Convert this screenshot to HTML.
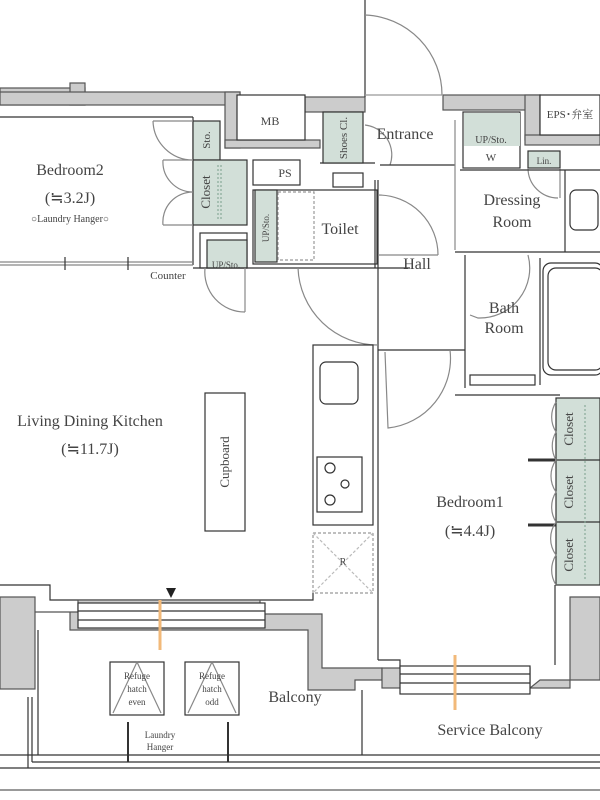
<!DOCTYPE html>
<html><head><meta charset="utf-8"><style>
html,body{margin:0;padding:0;background:#fff;}
svg{display:block;}
text{font-family:"Liberation Serif","Noto Serif CJK SC",serif;fill:#444;}
</style></head><body>
<svg width="600" height="800" viewBox="0 0 600 800" xmlns="http://www.w3.org/2000/svg">
<g stroke="#333" stroke-width="1.2" fill="none">
<!-- top gray walls -->
<rect x="0" y="88" width="85" height="17" fill="#ccc" stroke="#555"/>
<rect x="70" y="83" width="15" height="22" fill="#ccc" stroke="#555"/>
<rect x="0" y="92" width="240" height="13" fill="#ccc" stroke="#555"/>
<rect x="225" y="92" width="15" height="56" fill="#ccc" stroke="#555"/>
<rect x="225" y="140" width="95" height="8" fill="#ccc" stroke="#555"/>
<rect x="305" y="97" width="60" height="15" fill="#ccc" stroke="#555"/>
<rect x="443" y="95" width="97" height="15" fill="#ccc" stroke="#555"/>
<rect x="525" y="95" width="15" height="45" fill="#ccc" stroke="#555"/>
<rect x="525" y="135" width="75" height="10" fill="#ccc" stroke="#555"/>
<rect x="237" y="95" width="68" height="45" fill="#fff"/>
<rect x="540" y="95" width="60" height="40" fill="#fff"/>
<!-- entrance door arc -->
<line x1="365" y1="0" x2="365" y2="97"/>
<path d="M365 15 A80 80 0 0 1 442 95" stroke="#888"/>
<line x1="365" y1="95" x2="443" y2="95" stroke="#999"/>
<!-- bedroom2 -->
<line x1="0" y1="117" x2="193" y2="117"/>
<line x1="193" y1="117" x2="193" y2="265"/>
<rect x="193" y="121" width="27" height="39" fill="#d2dfd8"/>
<rect x="193" y="160" width="54" height="65" fill="#d2dfd8"/>
<line x1="218" y1="165" x2="218" y2="220" stroke="#8a9" stroke-dasharray="2,2"/>
<line x1="221" y1="165" x2="221" y2="220" stroke="#8a9" stroke-dasharray="2,2"/>
<path d="M153 121 H193 M153 121 A40 40 0 0 0 193 160 M163 160 H193 M163 160 A30 30 0 0 0 193 192 M163 225 H193 M163 225 A30 30 0 0 1 193 192" stroke="#888"/>
<rect x="200" y="233" width="47" height="35" fill="#fff"/>
<rect x="207" y="240" width="40" height="28" fill="#d2dfd8"/>
<line x1="0" y1="262" x2="193" y2="262" stroke="#888"/>
<line x1="0" y1="265" x2="193" y2="265" stroke="#888"/>
<line x1="65" y1="257" x2="65" y2="270"/><line x1="128" y1="257" x2="128" y2="270"/>
<line x1="193" y1="268" x2="410" y2="268"/>
<path d="M205 268 A40 40 0 0 0 245 312 M245 268 V312" stroke="#888"/>
<!-- PS / toilet -->
<rect x="253" y="160" width="47" height="25"/>
<rect x="253" y="190" width="124" height="74"/>
<rect x="255" y="190" width="22" height="72" fill="#d2dfd8"/>
<rect x="278" y="192" width="36" height="68" stroke="#999" stroke-dasharray="3,2"/>
<rect x="333" y="173" width="30" height="14"/>
<line x1="320" y1="163" x2="375" y2="163"/>
<!-- shoes closet -->
<rect x="323" y="112" width="40" height="51" fill="#d2dfd8"/>
<path d="M365 125 A30 30 0 0 1 390 165" stroke="#888"/>
<line x1="380" y1="165" x2="455" y2="165"/>
<line x1="378" y1="180" x2="378" y2="660"/>
<line x1="375" y1="180" x2="375" y2="268"/>
<path d="M378 195 A60 60 0 0 1 438 255 M378 255 H438" stroke="#888"/>
<path d="M298 268 A80 80 0 0 0 378 345" stroke="#888"/>
<line x1="455" y1="120" x2="455" y2="250" stroke="#888"/>
<!-- UP/Sto W -->
<rect x="463" y="112" width="57" height="56"/>
<polygon points="464,113 520,113 520,146 464,146" fill="#d2dfd8" stroke="none"/>
<rect x="528" y="151" width="32" height="17" fill="#d2dfd8"/>
<path d="M528 168 A30 30 0 0 0 558 198 M560 168 V198" stroke="#888"/>
<line x1="460" y1="170" x2="600" y2="170"/>
<line x1="565" y1="170" x2="565" y2="252"/>
<rect x="570" y="190" width="28" height="40" rx="6"/>
<line x1="455" y1="252" x2="600" y2="252"/>
<line x1="465" y1="255" x2="465" y2="388"/>
<line x1="540" y1="258" x2="540" y2="385"/>
<rect x="543" y="263" width="60" height="112" rx="8"/>
<rect x="548" y="268" width="55" height="102" rx="8"/>
<rect x="470" y="375" width="65" height="10"/>
<path d="M470 315 L478 318 A50 50 0 0 0 528 255" stroke="#888"/>
<line x1="378" y1="350" x2="465" y2="350"/>
<path d="M385 352 L388 428 A70 70 0 0 0 450 350" stroke="#888"/>
<line x1="455" y1="395" x2="560" y2="395"/>
<!-- kitchen -->
<rect x="313" y="345" width="60" height="180"/>
<rect x="320" y="362" width="38" height="42" rx="6"/>
<rect x="317" y="457" width="45" height="55"/>
<circle cx="330" cy="468" r="5"/><circle cx="345" cy="484" r="4"/><circle cx="330" cy="500" r="5"/>
<rect x="313" y="533" width="60" height="60" stroke="#999" stroke-dasharray="3,2"/>
<path d="M313 533 L373 593 M373 533 L313 593" stroke="#bbb" stroke-dasharray="3,2"/>
<rect x="205" y="393" width="40" height="138"/>
<!-- bedroom1 closets -->
<rect x="556" y="398" width="44" height="187" fill="#d2dfd8"/>
<line x1="556" y1="460" x2="600" y2="460"/><line x1="556" y1="522" x2="600" y2="522"/>
<line x1="528" y1="460" x2="556" y2="460" stroke-width="3"/><line x1="528" y1="525" x2="556" y2="525" stroke-width="3"/>
<path d="M556 402 A28 28 0 0 0 556 432 A28 28 0 0 0 556 460 A28 28 0 0 0 556 492 A28 28 0 0 0 556 522 A28 28 0 0 0 556 555 A28 28 0 0 0 556 585" stroke="#888"/>
<line x1="585" y1="405" x2="585" y2="580" stroke="#8a9" stroke-dasharray="2,2"/>
<!-- bottom walls -->
<path d="M0 585 H50 V600 H313 V593" />
<rect x="0" y="597" width="35" height="92" fill="#ccc" stroke="#555"/>
<polygon points="35,612 70,612 70,630 308,630 308,690 355,690 355,680 382,680 382,668 322,668 322,614 260,614 260,600 78,600 78,612" fill="#ccc" stroke="#555"/>
<rect x="78" y="603" width="187" height="25" fill="#fff"/>
<line x1="78" y1="611" x2="265" y2="611"/><line x1="78" y1="620" x2="265" y2="620"/>
<path d="M378 660 H400 V680"/>
<polygon points="530,688 570,688 570,597 600,597 600,680 540,680" fill="#ccc" stroke="#555"/>
<rect x="382" y="668" width="148" height="20" fill="#ccc" stroke="#555"/>
<rect x="400" y="666" width="130" height="28" fill="#fff"/>
<line x1="400" y1="674" x2="530" y2="674"/><line x1="400" y1="683" x2="530" y2="683"/>
<line x1="555" y1="585" x2="555" y2="665"/>
<line x1="38" y1="630" x2="38" y2="755"/>
<line x1="362" y1="690" x2="362" y2="755"/>
<line x1="0" y1="755" x2="600" y2="755"/>
<line x1="28" y1="697" x2="28" y2="768"/>
<line x1="32" y1="697" x2="32" y2="762"/>
<line x1="32" y1="762" x2="600" y2="762"/>
<line x1="0" y1="768" x2="600" y2="768"/>
<line x1="0" y1="790" x2="600" y2="790" stroke="#999" stroke-width="2"/>
<rect x="110" y="662" width="54" height="53"/>
<rect x="185" y="662" width="54" height="53"/>
<path d="M137 662 L113 713 M137 662 L161 713 M212 662 L188 713 M212 662 L236 713" stroke="#888"/>
<line x1="128" y1="722" x2="128" y2="762" stroke-width="2"/>
<line x1="228" y1="722" x2="228" y2="762" stroke-width="2"/>
<line x1="160" y1="600" x2="160" y2="650" stroke="#f2b979" stroke-width="3"/>
<line x1="455" y1="655" x2="455" y2="710" stroke="#f2b979" stroke-width="3"/>
<polygon points="166,588 176,588 171,598" fill="#222" stroke="none"/>
</g>
<g font-size="16">
<text x="70" y="175" text-anchor="middle">Bedroom2</text>
<text x="70" y="203" text-anchor="middle">(≒3.2J)</text>
<text x="70" y="222" font-size="10" text-anchor="middle">○Laundry Hanger○</text>
<text x="270" y="125" font-size="12" text-anchor="middle">MB</text>
<text x="285" y="177" font-size="12" text-anchor="middle">PS</text>
<text x="405" y="139" text-anchor="middle">Entrance</text>
<text x="340" y="234" text-anchor="middle">Toilet</text>
<text x="417" y="269" text-anchor="middle">Hall</text>
<text x="512" y="205" text-anchor="middle">Dressing</text>
<text x="512" y="227" text-anchor="middle">Room</text>
<text x="504" y="313" text-anchor="middle">Bath</text>
<text x="504" y="333" text-anchor="middle">Room</text>
<text x="90" y="426" text-anchor="middle">Living Dining Kitchen</text>
<text x="90" y="454" text-anchor="middle">(≒11.7J)</text>
<text x="470" y="507" text-anchor="middle">Bedroom1</text>
<text x="470" y="536" text-anchor="middle">(≒4.4J)</text>
<text x="295" y="702" text-anchor="middle">Balcony</text>
<text x="490" y="735" text-anchor="middle">Service Balcony</text>
<text x="570" y="118" font-size="11" text-anchor="middle">EPS･弁室</text>
<text x="491" y="143" font-size="10" text-anchor="middle">UP/Sto.</text>
<text x="491" y="161" font-size="11" text-anchor="middle">W</text>
<text x="544" y="164" font-size="9" text-anchor="middle">Lin.</text>
<text x="168" y="279" font-size="11" text-anchor="middle">Counter</text>
<text x="226" y="268" font-size="9" text-anchor="middle">UP/Sto.</text>
<text x="160" y="738" font-size="9" text-anchor="middle">Laundry</text>
<text x="160" y="750" font-size="9" text-anchor="middle">Hanger</text>
<text x="137" y="679" font-size="9" text-anchor="middle">Refuge</text>
<text x="137" y="692" font-size="9" text-anchor="middle">hatch</text>
<text x="137" y="705" font-size="9" text-anchor="middle">even</text>
<text x="212" y="679" font-size="9" text-anchor="middle">Refuge</text>
<text x="212" y="692" font-size="9" text-anchor="middle">hatch</text>
<text x="212" y="705" font-size="9" text-anchor="middle">odd</text>
<text x="343" y="565" font-size="10" text-anchor="middle">R</text>
<text transform="translate(210,140) rotate(-90)" font-size="11" text-anchor="middle">Sto.</text>
<text transform="translate(210,192) rotate(-90)" font-size="13" text-anchor="middle">Closet</text>
<text transform="translate(347,138) rotate(-90)" font-size="11" text-anchor="middle">Shoes Cl.</text>
<text transform="translate(269,228) rotate(-90)" font-size="9" text-anchor="middle">UP/Sto.</text>
<text transform="translate(229,462) rotate(-90)" font-size="13" text-anchor="middle">Cupboard</text>
<text transform="translate(573,429) rotate(-90)" font-size="13" text-anchor="middle">Closet</text>
<text transform="translate(573,492) rotate(-90)" font-size="13" text-anchor="middle">Closet</text>
<text transform="translate(573,555) rotate(-90)" font-size="13" text-anchor="middle">Closet</text>
</g>
</svg>
</body></html>
